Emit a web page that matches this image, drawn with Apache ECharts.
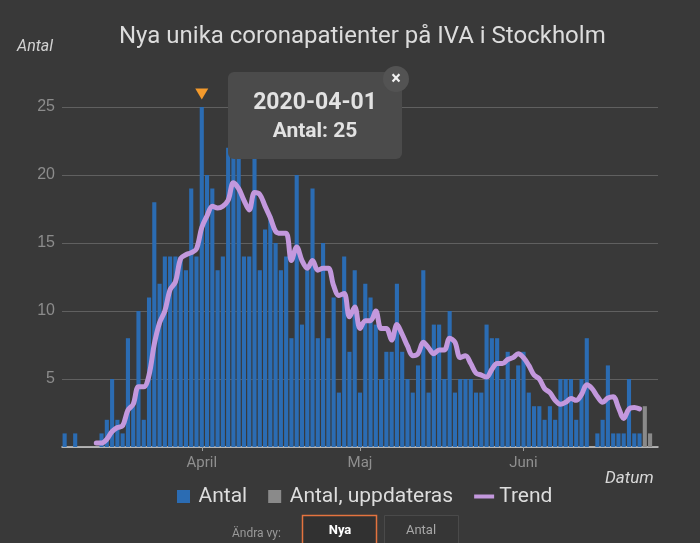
<!DOCTYPE html>
<html>
<head>
<meta charset="utf-8">
<script src="https://cdn.jsdelivr.net/npm/echarts@6/dist/echarts.min.js"></script>
<style>
html,body{margin:0;padding:0;background:#393939;}
#chart{width:700px;height:543px;}
</style>
</head>
<body>
<div id="chart"></div>
<script>
// ---- Data ----
const firstDay = '2020-03-06';
const lastDay = '2020-06-26';
const monthLabels = {'04': 'April', '05': 'Maj', '06': 'Juni'};

// Nya unika patienter per dag (Antal)
const antalStart = '2020-03-06';
const antalMars  = [1,0,1,0,0,0,0,1,2,5,2,1,8,3,10,2,11,18,12,14,14,14,14,13,19,14];
const antalApril = [25,20,19,13,14,22,23,22,14,14,22,13,16,17,15,13,14,8,20,9,13,19,8,15,8,11,4,14,7,13];
const antalMaj   = [4,12,11,9,5,7,7,12,7,5,4,6,13,4,9,9,5,10,4,5,5,5,4,4,9,8,8,5,7,5,6];
const antalJuni  = [7,4,3,3,2,3,2,5,5,5,2,5,8,0,1,2,6,1,1,1,5,1,1];

// Antal, uppdateras (grå staplar)
const uppdaterasDates  = ['2020-06-24','2020-06-25'];
const uppdaterasValues = [3,1];

// Trend (läst från kurvan)
const trendStart = '2020-03-12';
const trendMars  = [0.29,0.29,0.57,1.14,1.43,1.57,2.71,3.14,4.43,4.43,5.29,7.57,9.14,10.0,11.57,12.14,13.86,14.14,14.29,14.57];
const trendApril = [16.14,17.0,17.71,17.57,17.71,18.14,19.43,19.0,18.14,17.43,18.71,18.57,17.71,16.86,15.86,15.71,15.71,13.71,14.71,13.71,13.14,13.71,13.0,13.14,13.14,11.86,11.14,11.29,9.57,10.29];
const trendMaj   = [8.71,9.29,9.29,10.0,8.71,8.71,7.86,9.0,8.29,7.43,6.71,6.86,7.71,7.29,6.86,7.14,7.14,8.0,7.71,6.57,6.71,6.14,5.43,5.29,5.14,5.71,6.14,6.14,6.43,6.57,6.86];
const trendJuni  = [6.57,6.0,5.29,5.0,4.29,4.0,3.43,3.14,3.29,3.57,3.43,3.86,4.57,4.29,3.71,3.29,3.6,3.7,2.9,2.1,2.8,2.9,2.8];

const highlightDate = '2020-04-01';

// ---- Build category axis ----
const dates = [];
{
  const d = new Date(firstDay + 'T00:00:00Z');
  const end = new Date(lastDay + 'T00:00:00Z');
  while (d <= end) { dates.push(d.toISOString().slice(0,10)); d.setUTCDate(d.getUTCDate() + 1); }
}
function place(startDate, values) {
  const arr = dates.map(() => null);
  const s = dates.indexOf(startDate);
  values.forEach((v, i) => { arr[s + i] = v; });
  return arr;
}
const antalData = place(antalStart, antalMars.concat(antalApril, antalMaj, antalJuni));
const trendData = place(trendStart, trendMars.concat(trendApril, trendMaj, trendJuni));
const uppdData = dates.map(() => null);
uppdaterasDates.forEach((d, i) => { uppdData[dates.indexOf(d)] = uppdaterasValues[i]; });
const hiValue = antalData[dates.indexOf(highlightDate)];

const isMonthStart = (i, v) => v.slice(8) === '01';
const squareIcon = 'path://M0,0h10v10h-10z';

const chart = echarts.init(document.getElementById('chart'), null, {renderer: 'canvas'});
chart.setOption({
  animation: false,
  backgroundColor: '#393939',
  textStyle: {fontFamily: 'Roboto'},
  title: {
    text: 'Nya unika coronapatienter på IVA i Stockholm',
    left: 119, top: 25, padding: 0,
    textStyle: {color: '#dcdcdc', fontSize: 24, fontWeight: 'normal', fontFamily: 'Roboto'}
  },
  grid: {left: 62, right: 42, top: 107, bottom: 96, containLabel: false},
  legend: {
    left: 177, top: 486, padding: 0,
    itemWidth: 20, itemHeight: 13, itemGap: 21,
    textStyle: {color: '#dddddd', fontSize: 21, fontFamily: 'Roboto'},
    data: [
      {name: 'Antal', icon: squareIcon},
      {name: 'Antal, uppdateras', icon: squareIcon},
      {name: 'Trend', icon: 'path://M0,0h20v4h-20z'}
    ]
  },
  xAxis: {
    type: 'category', data: dates, boundaryGap: true,
    axisLine: {lineStyle: {color: '#cfcfcf', width: 1.5}},
    axisTick: {show: true, interval: isMonthStart, alignWithLabel: true, length: 4, lineStyle: {color: '#9a9a9a'}},
    axisLabel: {interval: isMonthStart, formatter: v => monthLabels[v.slice(5,7)] || '', color: '#8f8f8f', fontSize: 15, margin: 9},
    splitLine: {show: false}
  },
  yAxis: {
    type: 'value', min: 0, max: 25, interval: 5,
    axisLine: {show: false}, axisTick: {show: false},
    axisLabel: {color: '#8c8c8c', fontSize: 16, margin: 7, formatter: v => v === 0 ? '' : String(v), fontFamily: 'Liberation Sans'},
    splitLine: {lineStyle: {color: '#606060', width: 1}}
  },
  series: [
    {
      name: 'Antal', type: 'bar', data: antalData, barCategoryGap: '22%', barGap: '-100%',
      color: '#2b6cb3', itemStyle: {color: '#2b6cb3'},
      markPoint: {
        symbol: 'triangle', symbolRotate: 180, symbolSize: [13, 11], symbolOffset: [0, -13],
        itemStyle: {color: '#f39a2c'}, label: {show: false},
        data: [{coord: [highlightDate, hiValue]}]
      }
    },
    {
      name: 'Antal, uppdateras', type: 'bar', data: uppdData, barCategoryGap: '22%', barGap: '-100%',
      color: '#8a8a8a', itemStyle: {color: '#8a8a8a'}
    },
    {
      name: 'Trend', type: 'line', data: trendData, smooth: 0.35, symbol: 'none', showSymbol: false,
      color: '#c398dd', itemStyle: {color: '#c398dd'},
      lineStyle: {color: '#c398dd', width: 5, cap: 'round', join: 'round'}, z: 5
    }
  ],
  graphic: [
    {type: 'text', x: 17, y: 47, style: {text: 'Antal', font: 'italic 16px Roboto', fill: '#d2d2d2', verticalAlign: 'middle'}},
    {type: 'text', x: 605, y: 479, style: {text: 'Datum', font: 'italic 17px Roboto', fill: '#d8d8d8', verticalAlign: 'middle'}},
    {type: 'rect', z: 100, zlevel: 1, shape: {x: 228, y: 72, width: 174, height: 87, r: 6}, style: {fill: '#4b4b4b'}},
    {type: 'circle', z: 101, zlevel: 1, shape: {cx: 396, cy: 79, r: 13}, style: {fill: '#535353'}},
    {type: 'text', z: 102, zlevel: 1, x: 396, y: 79, style: {text: '×', font: 'bold 18px Roboto', fill: '#f2f2f2', align: 'center', verticalAlign: 'middle'}},
    {type: 'text', z: 102, zlevel: 1, x: 315, y: 103, style: {text: highlightDate, font: 'bold 23px Roboto', fill: '#e2e2e2', align: 'center', verticalAlign: 'middle'}},
    {type: 'text', z: 102, zlevel: 1, x: 315, y: 132, style: {text: 'Antal: ' + hiValue, font: 'bold 21px Roboto', fill: '#e2e2e2', align: 'center', verticalAlign: 'middle'}},
    {type: 'text', x: 232, y: 534, style: {text: 'Ändra vy:', font: '12px Roboto', fill: '#9a9a9a', verticalAlign: 'middle'}},
    {type: 'rect', shape: {x: 302.5, y: 515.5, width: 74, height: 40}, style: {fill: '#313131', stroke: '#e4733f', lineWidth: 1.5}},
    {type: 'text', x: 340, y: 531, style: {text: 'Nya', font: 'bold 13px Roboto', fill: '#ffffff', align: 'center', verticalAlign: 'middle'}},
    {type: 'rect', shape: {x: 384.5, y: 515.5, width: 74, height: 40}, style: {fill: '#363636', stroke: '#4a4a4a', lineWidth: 1}},
    {type: 'text', x: 421, y: 531, style: {text: 'Antal', font: '13px Roboto', fill: '#a8a8a8', align: 'center', verticalAlign: 'middle'}}
  ]
});
</script>
</body>
</html>
